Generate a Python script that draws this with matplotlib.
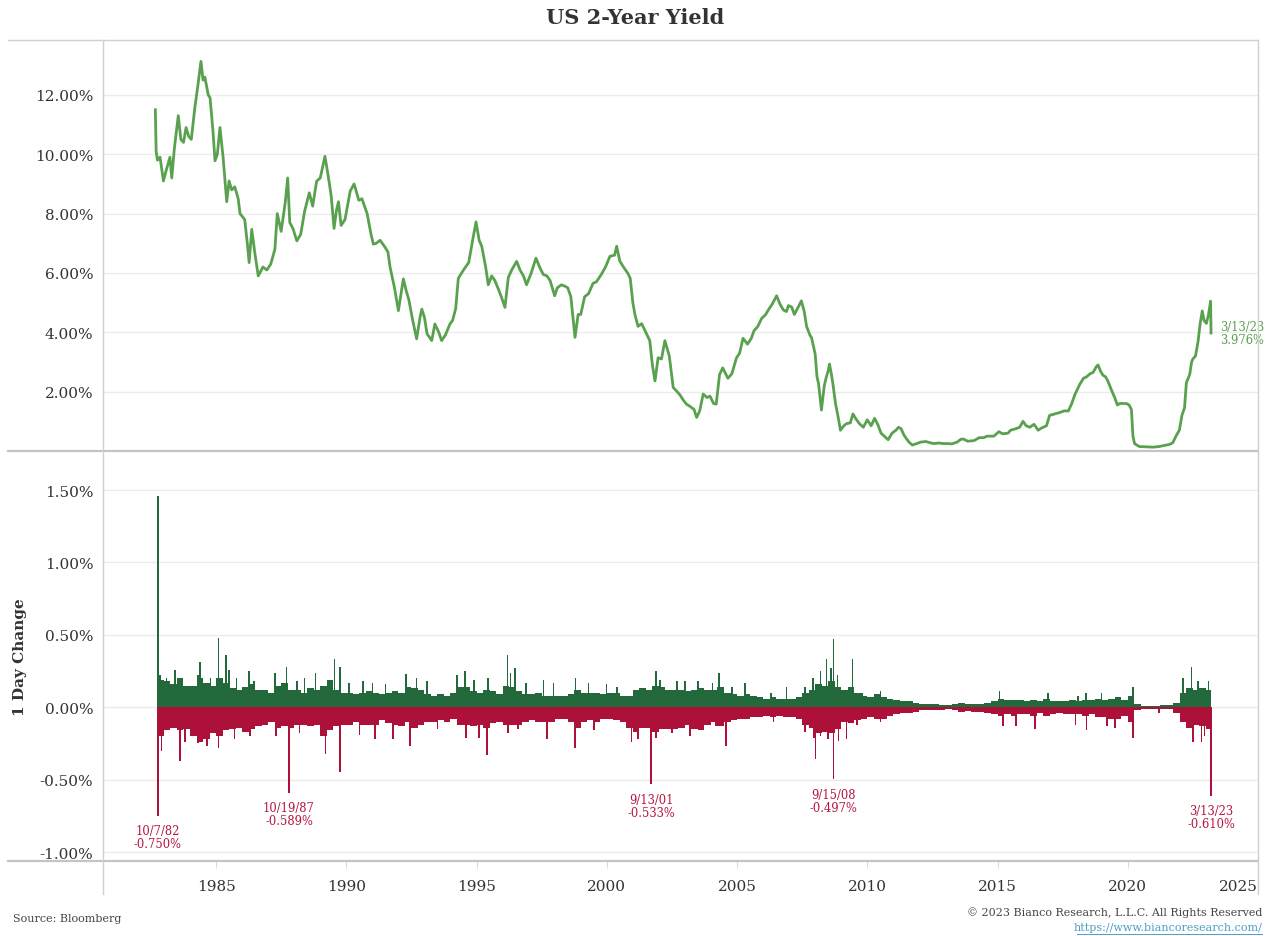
import numpy as np
import matplotlib
matplotlib.use("Agg")
import matplotlib.pyplot as plt
from matplotlib.lines import Line2D
from matplotlib.ticker import FuncFormatter

# ---------------- data ----------------
yield_years = [
    1982.67, 1982.70, 1982.75, 1982.85, 1982.98, 1983.10, 1983.23, 1983.30, 1983.40, 1983.55,
    1983.65, 1983.75, 1983.85, 1983.95, 1984.05, 1984.19, 1984.30, 1984.42, 1984.50, 1984.57,
    1984.70, 1984.77, 1984.88, 1984.96, 1985.05, 1985.15, 1985.27, 1985.41, 1985.50, 1985.60,
    1985.72, 1985.85, 1985.92, 1986.10, 1986.20, 1986.27, 1986.37, 1986.50, 1986.62, 1986.80,
    1986.95, 1987.10, 1987.26, 1987.35, 1987.50, 1987.66, 1987.75, 1987.83, 1987.95, 1988.10,
    1988.25, 1988.40, 1988.58, 1988.71, 1988.86, 1989.00, 1989.18, 1989.30, 1989.42, 1989.53,
    1989.62, 1989.70, 1989.80, 1989.95, 1990.15, 1990.30, 1990.48, 1990.60, 1990.80, 1990.95,
    1991.04, 1991.15, 1991.30, 1991.50, 1991.60, 1991.68, 1991.85, 1992.00, 1992.19, 1992.30,
    1992.40, 1992.55, 1992.70, 1992.83, 1992.90, 1993.00, 1993.10, 1993.28, 1993.40, 1993.55,
    1993.66, 1993.80, 1993.98, 1994.08, 1994.20, 1994.30, 1994.50, 1994.70, 1994.85, 1994.98,
    1995.10, 1995.20, 1995.35, 1995.45, 1995.58, 1995.70, 1995.84, 1995.95, 1996.09, 1996.22,
    1996.35, 1996.54, 1996.67, 1996.80, 1996.92, 1997.10, 1997.28, 1997.42, 1997.56, 1997.70,
    1997.82, 1998.00, 1998.10, 1998.26, 1998.40, 1998.50, 1998.62, 1998.78, 1998.90, 1999.00,
    1999.15, 1999.30, 1999.47, 1999.60, 1999.79, 1999.95, 2000.12, 2000.30, 2000.38, 2000.50,
    2000.64, 2000.80, 2000.90, 2001.00, 2001.08, 2001.20, 2001.34, 2001.50, 2001.65, 2001.75,
    2001.85, 2001.97, 2002.10, 2002.23, 2002.40, 2002.55, 2002.70, 2002.80, 2002.95, 2003.06,
    2003.20, 2003.35, 2003.45, 2003.57, 2003.70, 2003.85, 2003.96, 2004.10, 2004.20, 2004.33,
    2004.45, 2004.65, 2004.80, 2004.98, 2005.10, 2005.23, 2005.40, 2005.55, 2005.65, 2005.80,
    2005.94, 2006.10, 2006.20, 2006.35, 2006.52, 2006.65, 2006.78, 2006.90, 2006.97, 2007.10,
    2007.20, 2007.35, 2007.47, 2007.58, 2007.67, 2007.80, 2007.86, 2008.00, 2008.07, 2008.13,
    2008.24, 2008.35, 2008.43, 2008.50, 2008.55, 2008.62, 2008.68, 2008.78, 2008.88, 2008.97,
    2009.10, 2009.20, 2009.35, 2009.45, 2009.55, 2009.70, 2009.85, 2010.00, 2010.15, 2010.28,
    2010.40, 2010.53, 2010.65, 2010.80, 2010.95, 2011.10, 2011.20, 2011.30, 2011.40, 2011.50,
    2011.60, 2011.73, 2011.90, 2012.05, 2012.25, 2012.40, 2012.56, 2012.75, 2012.90, 2013.07,
    2013.25, 2013.45, 2013.60, 2013.70, 2013.85, 2014.10, 2014.30, 2014.47, 2014.60, 2014.86,
    2015.05, 2015.20, 2015.40, 2015.50, 2015.70, 2015.85, 2015.98, 2016.10, 2016.24, 2016.40,
    2016.56, 2016.70, 2016.88, 2017.00, 2017.20, 2017.40, 2017.55, 2017.72, 2017.85, 2017.97,
    2018.16, 2018.30, 2018.42, 2018.55, 2018.67, 2018.80, 2018.86, 2018.95, 2019.05, 2019.15,
    2019.24, 2019.40, 2019.50, 2019.60, 2019.69, 2019.85, 2019.95, 2020.05, 2020.14, 2020.20,
    2020.26, 2020.35, 2020.45, 2020.70, 2020.96, 2021.20, 2021.47, 2021.60, 2021.73, 2021.85,
    2021.98, 2022.08, 2022.18, 2022.25, 2022.38, 2022.45, 2022.50, 2022.60, 2022.70, 2022.78,
    2022.86, 2022.93, 2023.02, 2023.10, 2023.18, 2023.197,
]
yield_values = [
    11.50, 10.10, 9.80, 9.90, 9.10, 9.50, 9.90, 9.20, 10.20, 11.30,
    10.50, 10.40, 10.90, 10.60, 10.50, 11.60, 12.30, 13.13, 12.50, 12.60,
    12.00, 11.90, 10.80, 9.78, 10.00, 10.90, 9.90, 8.40, 9.10, 8.80,
    8.90, 8.50, 8.00, 7.80, 7.00, 6.35, 7.47, 6.60, 5.90, 6.20,
    6.10, 6.30, 6.80, 8.00, 7.40, 8.40, 9.20, 7.70, 7.50, 7.08,
    7.30, 8.08, 8.70, 8.25, 9.09, 9.20, 9.93, 9.30, 8.60, 7.50,
    8.10, 8.40, 7.60, 7.80, 8.76, 9.00, 8.45, 8.50, 8.00, 7.30,
    6.97, 7.00, 7.10, 6.85, 6.70, 6.20, 5.50, 4.73, 5.80, 5.40,
    5.10, 4.40, 3.78, 4.50, 4.78, 4.50, 3.95, 3.72, 4.28, 4.00,
    3.72, 3.90, 4.28, 4.40, 4.80, 5.82, 6.10, 6.35, 7.10, 7.72,
    7.10, 6.90, 6.20, 5.60, 5.90, 5.75, 5.45, 5.20, 4.84, 5.85,
    6.10, 6.39, 6.10, 5.90, 5.60, 6.00, 6.50, 6.20, 5.95, 5.90,
    5.75, 5.23, 5.50, 5.60, 5.55, 5.50, 5.20, 3.83, 4.60, 4.60,
    5.20, 5.30, 5.65, 5.70, 5.95, 6.20, 6.56, 6.60, 6.90, 6.40,
    6.20, 6.00, 5.82, 5.00, 4.60, 4.20, 4.29, 4.00, 3.72, 2.90,
    2.36, 3.14, 3.10, 3.72, 3.20, 2.14, 2.00, 1.90, 1.70, 1.58,
    1.50, 1.40, 1.13, 1.36, 1.92, 1.80, 1.85, 1.60, 1.58, 2.58,
    2.80, 2.45, 2.60, 3.14, 3.30, 3.80, 3.60, 3.80, 4.05, 4.20,
    4.46, 4.60, 4.75, 4.95, 5.23, 4.95, 4.75, 4.70, 4.90, 4.85,
    4.60, 4.85, 5.06, 4.70, 4.20, 3.90, 3.82, 3.27, 2.50, 2.27,
    1.38, 2.20, 2.50, 2.70, 2.93, 2.60, 2.27, 1.60, 1.15, 0.70,
    0.85, 0.92, 0.95, 1.25, 1.10, 0.92, 0.80, 1.05, 0.85, 1.10,
    0.90, 0.60, 0.50, 0.38, 0.60, 0.70, 0.80, 0.75, 0.55, 0.42,
    0.30, 0.20, 0.25, 0.30, 0.32, 0.28, 0.25, 0.27, 0.25, 0.25,
    0.24, 0.30, 0.40, 0.40, 0.33, 0.35, 0.45, 0.45, 0.50, 0.50,
    0.65, 0.58, 0.60, 0.70, 0.75, 0.80, 1.00, 0.85, 0.80, 0.90,
    0.70, 0.78, 0.85, 1.20, 1.25, 1.30, 1.35, 1.35, 1.60, 1.90,
    2.25, 2.45, 2.50, 2.60, 2.65, 2.85, 2.90, 2.70, 2.55, 2.50,
    2.35, 2.00, 1.80, 1.55, 1.60, 1.60, 1.60, 1.55, 1.40, 0.50,
    0.25, 0.20, 0.15, 0.14, 0.13, 0.15, 0.20, 0.22, 0.28, 0.50,
    0.70, 1.20, 1.46, 2.30, 2.58, 3.00, 3.10, 3.20, 3.70, 4.30,
    4.72, 4.40, 4.30, 4.60, 5.05, 3.976,
]

# quarterly envelope of the daily changes (%), first quarter = Q4 1982
chg_start = 1982.75
chg_up = [
    0.19,
    0.18, 0.16, 0.20, 0.15,  0.15, 0.20, 0.17, 0.15,  0.20, 0.17, 0.13, 0.12,
    0.14, 0.16, 0.12, 0.12,  0.10, 0.15, 0.17, 0.12,  0.12, 0.10, 0.13, 0.12,
    0.15, 0.19, 0.12, 0.10,  0.10, 0.09, 0.10, 0.11,  0.10, 0.09, 0.10, 0.11,
    0.10, 0.14, 0.13, 0.12,  0.09, 0.08, 0.09, 0.08,  0.10, 0.14, 0.14, 0.11,
    0.10, 0.12, 0.11, 0.09,  0.15, 0.14, 0.11, 0.09,  0.09, 0.10, 0.08, 0.08,
    0.08, 0.08, 0.09, 0.12,  0.10, 0.10, 0.10, 0.09,  0.10, 0.10, 0.08, 0.08,
    0.12, 0.13, 0.12, 0.15,  0.14, 0.12, 0.12, 0.12,  0.11, 0.12, 0.13, 0.12,
    0.12, 0.14, 0.10, 0.09,  0.08, 0.09, 0.08, 0.07,  0.06, 0.07, 0.06, 0.06,
    0.06, 0.07, 0.10, 0.12,  0.16, 0.15, 0.18, 0.14,  0.12, 0.14, 0.10, 0.08,
    0.07, 0.09, 0.07, 0.06,  0.05, 0.04, 0.04, 0.03,  0.02, 0.02, 0.02, 0.015,
    0.015, 0.02, 0.03, 0.02, 0.02, 0.025, 0.03, 0.04, 0.06, 0.05, 0.05, 0.05,
    0.04, 0.05, 0.04, 0.06,  0.04, 0.04, 0.04, 0.05,  0.04, 0.05, 0.05, 0.06,
    0.05, 0.06, 0.07, 0.05,  0.08, 0.02, 0.01, 0.01,  0.01, 0.015, 0.015, 0.03,
    0.10, 0.13, 0.12, 0.13,
    0.12,
]
chg_down = [
    -0.20,
    -0.16, -0.14, -0.16, -0.15,  -0.20, -0.24, -0.22, -0.18,  -0.20, -0.16, -0.15, -0.14,
    -0.17, -0.15, -0.13, -0.12,  -0.10, -0.14, -0.13, -0.14,  -0.12, -0.12, -0.13, -0.12,
    -0.20, -0.16, -0.13, -0.12,  -0.12, -0.10, -0.12, -0.12,  -0.12, -0.09, -0.11, -0.12,
    -0.13, -0.10, -0.14, -0.12,  -0.10, -0.10, -0.09, -0.10,  -0.08, -0.12, -0.12, -0.13,
    -0.12, -0.14, -0.11, -0.10,  -0.12, -0.12, -0.12, -0.10,  -0.09, -0.10, -0.10, -0.10,
    -0.08, -0.08, -0.10, -0.14,  -0.10, -0.09, -0.10, -0.08,  -0.08, -0.09, -0.10, -0.14,
    -0.17, -0.14, -0.14, -0.17,  -0.15, -0.15, -0.15, -0.14,  -0.12, -0.15, -0.16, -0.12,
    -0.10, -0.13, -0.10, -0.09,  -0.08, -0.08, -0.07, -0.07,  -0.06, -0.07, -0.06, -0.07,
    -0.07, -0.08, -0.12, -0.14,  -0.18, -0.17, -0.18, -0.15,  -0.10, -0.11, -0.09, -0.08,
    -0.07, -0.08, -0.08, -0.06,  -0.05, -0.04, -0.04, -0.03,  -0.02, -0.02, -0.02, -0.02,
    -0.015, -0.02, -0.03, -0.025, -0.03, -0.03, -0.04, -0.05, -0.06, -0.05, -0.06, -0.05,
    -0.05, -0.06, -0.04, -0.06,  -0.05, -0.04, -0.05, -0.05,  -0.05, -0.06, -0.05, -0.07,
    -0.07, -0.08, -0.08, -0.06,  -0.10, -0.02, -0.01, -0.01,  -0.01, -0.01, -0.015, -0.04,
    -0.10, -0.14, -0.12, -0.13,
    -0.15,
]

# individual large daily moves (year, % change)
spike_up_years = [
    1982.78, 1982.85, 1983.10, 1983.43, 1983.62, 1984.30, 1984.39, 1984.78, 1985.09, 1985.38,
    1985.50, 1985.78, 1986.27, 1986.45, 1987.26, 1987.71, 1988.10, 1988.40, 1988.82, 1989.54,
    1989.76, 1990.10, 1990.65, 1991.00, 1991.50, 1992.30, 1992.70, 1993.10, 1994.24, 1994.55,
    1994.90, 1995.45, 1996.19, 1996.30, 1996.47, 1996.90, 1997.57, 1997.95, 1998.80, 1999.30,
    1999.99, 2000.40, 2001.88, 2002.05, 2002.70, 2003.00, 2003.50, 2004.06, 2004.31, 2004.80,
    2005.30, 2006.30, 2006.90, 2007.60, 2007.92, 2008.20, 2008.43, 2008.60, 2008.71, 2008.85,
    2009.43, 2009.80, 2010.50, 2015.08, 2016.94, 2018.10, 2018.40, 2019.00, 2020.20, 2022.12,
    2022.44, 2022.70, 2023.10,
]
spike_up_values = [
    1.46, 0.22, 0.20, 0.26, 0.20, 0.22, 0.31, 0.20, 0.48, 0.36,
    0.26, 0.20, 0.25, 0.18, 0.24, 0.28, 0.18, 0.20, 0.24, 0.336,
    0.28, 0.17, 0.18, 0.17, 0.16, 0.23, 0.20, 0.18, 0.22, 0.25,
    0.19, 0.20, 0.36, 0.24, 0.27, 0.17, 0.19, 0.17, 0.20, 0.17,
    0.16, 0.14, 0.25, 0.19, 0.18, 0.18, 0.18, 0.17, 0.24, 0.14,
    0.17, 0.10, 0.14, 0.14, 0.20, 0.25, 0.33, 0.27, 0.47, 0.22,
    0.336, 0.10, 0.11, 0.11, 0.10, 0.08, 0.10, 0.10, 0.14, 0.20,
    0.28, 0.18, 0.18,
]
spike_down_years = [
    1982.77, 1982.90, 1983.62, 1983.80, 1984.30, 1984.65, 1985.10, 1985.70, 1986.30, 1987.30,
    1987.80, 1988.20, 1989.20, 1989.76, 1990.50, 1991.10, 1991.80, 1992.44, 1993.50, 1994.60,
    1995.10, 1995.41, 1996.20, 1996.60, 1997.70, 1998.77, 1999.50, 2000.95, 2001.20, 2001.70,
    2001.90, 2002.50, 2003.20, 2004.20, 2004.57, 2006.40, 2007.60, 2007.95, 2008.02, 2008.20,
    2008.50, 2008.71, 2008.90, 2009.20, 2009.60, 2010.50, 2015.20, 2015.70, 2016.43, 2018.00,
    2018.41, 2019.20, 2019.50, 2020.20, 2021.20, 2022.50, 2022.83, 2022.95, 2023.19, 2023.197,
]
spike_down_values = [
    -0.750, -0.30, -0.37, -0.24, -0.25, -0.27, -0.28, -0.22, -0.20, -0.20,
    -0.589, -0.18, -0.32, -0.45, -0.19, -0.22, -0.22, -0.27, -0.15, -0.21,
    -0.21, -0.33, -0.18, -0.15, -0.22, -0.28, -0.16, -0.24, -0.22, -0.533,
    -0.21, -0.18, -0.20, -0.13, -0.27, -0.10, -0.17, -0.21, -0.354, -0.20,
    -0.22, -0.497, -0.23, -0.22, -0.12, -0.10, -0.13, -0.13, -0.15, -0.12,
    -0.16, -0.13, -0.14, -0.21, -0.04, -0.24, -0.24, -0.20, -0.29, -0.610,
]

callout_years = [1982.77, 1987.80, 2001.70, 2008.71, 2023.197]
callout_dates = ["10/7/82", "10/19/87", "9/13/01", "9/15/08", "3/13/23"]
callout_values = [-0.750, -0.589, -0.533, -0.497, -0.610]

last_date_label = "3/13/23"
last_yield = 3.976

top_ticks = [2, 4, 6, 8, 10, 12]
bottom_ticks = [-1.0, -0.5, 0.0, 0.5, 1.0, 1.5]
year_ticks = [1985, 1990, 1995, 2000, 2005, 2010, 2015, 2020, 2025]

# ---------------- style ----------------
SERIF = ["DejaVu Serif"]
plt.rcParams["font.family"] = SERIF
LINE_GREEN = "#59a14f"
BAR_GREEN = "#24693c"
BAR_RED = "#ad1039"
ANN_RED = "#b3173f"
GRID = "#ececec"
BORDER = "#d0d0d0"
TXT = "#333333"

W, H = 1270, 937
fig = plt.figure(figsize=(W / 100, H / 100), dpi=100)

def fx(px):
    return px / W

def fy(py):
    return 1 - py / H

left, right = 103, 1258
ax1 = fig.add_axes([fx(left), fy(452), fx(right) - fx(left), fy(41) - fy(452)])
ax2 = fig.add_axes([fx(left), fy(862), fx(right) - fx(left), fy(452) - fy(862)], sharex=ax1)

xlim = (1980.66, 2025.0)

# top panel
ax1.plot(yield_years, yield_values, color=LINE_GREEN, lw=2.0, solid_joinstyle="round")
ax1.set_xlim(*xlim)
ax1.set_ylim(0, 13.85)
ax1.set_yticks(top_ticks)
ax1.yaxis.set_major_formatter(FuncFormatter(lambda v, p: f"{v:.2f}%"))
ax1.grid(axis="y", color=GRID, lw=1)
ax1.set_axisbelow(True)
ax1.tick_params(axis="x", bottom=False, labelbottom=False)
ax1.tick_params(axis="y", length=0, labelsize=11, labelcolor=TXT, pad=7)
for s in ax1.spines.values():
    s.set_visible(False)
ax1.text(2023.55, last_yield, f"{last_date_label}\n{last_yield:.3f}%", color=LINE_GREEN,
         fontsize=8.3, va="center", ha="left", linespacing=1.0)

# bottom panel
n = len(chg_up)
q_start = chg_start + 0.25 * np.arange(n)
q_left = np.maximum(q_start, 1982.67)
q_right = np.minimum(q_start + 0.25, 2023.2)
q_w = q_right - q_left
ax2.bar(q_left, chg_up, width=q_w, align="edge", color=BAR_GREEN, lw=0)
ax2.bar(q_left, chg_down, width=q_w, align="edge", color=BAR_RED, lw=0)
ax2.bar(spike_up_years, spike_up_values, width=0.06, color=BAR_GREEN, lw=0)
ax2.bar(spike_down_years, spike_down_values, width=0.06, color=BAR_RED, lw=0)
ax2.axhline(0, color="#9a9a9a", lw=0.8, ls=(0, (1, 1.5)), zorder=0.5)
ax2.set_ylim(-1.062, 1.77)
ax2.set_yticks(bottom_ticks)
ax2.yaxis.set_major_formatter(FuncFormatter(lambda v, p: f"{v:.2f}%"))
ax2.grid(axis="y", color=GRID, lw=1)
ax2.set_axisbelow(True)
ax2.set_xticks(year_ticks)
ax2.set_xticklabels([str(y) for y in year_ticks])
ax2.tick_params(axis="y", length=0, labelsize=11, labelcolor=TXT, pad=7)
ax2.tick_params(axis="x", length=5, color="#dddddd", labelsize=11, labelcolor=TXT, pad=8)
ax2.get_xticklabels()[-1].set_horizontalalignment("right")
for s in ax2.spines.values():
    s.set_visible(False)
ax2.set_ylabel("1 Day Change", fontsize=11, color=TXT, fontweight="semibold")
ax2.yaxis.set_label_coords(-0.066, 0.5)

for yr, d, v in zip(callout_years, callout_dates, callout_values):
    ax2.annotate(f"{d}\n{v:.3f}%", xy=(yr, v), xytext=(0, -6), textcoords="offset points",
                 ha="center", va="top", color=ANN_RED, fontsize=8.3, linespacing=1.0)

# frame lines
def hline(py, x0, x1, color=BORDER, lw=1.0):
    fig.add_artist(Line2D([fx(x0), fx(x1)], [fy(py), fy(py)], color=color, lw=lw))

def vline(px, y0, y1, color=BORDER, lw=1.0):
    fig.add_artist(Line2D([fx(px), fx(px)], [fy(y0), fy(y1)], color=color, lw=lw))

hline(41, 8, right)
hline(452, 8, right, color="#c4c4c4", lw=1.6)
hline(862, 8, right, color="#c4c4c4", lw=1.6)
vline(left, 41, 895)
vline(right, 41, 895)

fig.text(0.5, fy(18), "US 2-Year Yield", ha="center", va="center", fontsize=15,
         fontweight="bold", color=TXT)
fig.text(fx(13), fy(919), "Source: Bloomberg", ha="left", va="center", fontsize=8, color="#444444")
fig.text(fx(1262), fy(913), "\u00a9 2023 Bianco Research, L.L.C. All Rights Reserved", ha="right",
         va="center", fontsize=8, color="#444444")
fig.text(fx(1262), fy(928), "https://www.biancoresearch.com/", ha="right", va="center",
         fontsize=8, color="#4a9fc4")
fig.add_artist(Line2D([fx(1077), fx(1262)], [fy(935), fy(935)], color="#4a9fc4", lw=0.7))

fig.savefig("out.png", dpi=100)
